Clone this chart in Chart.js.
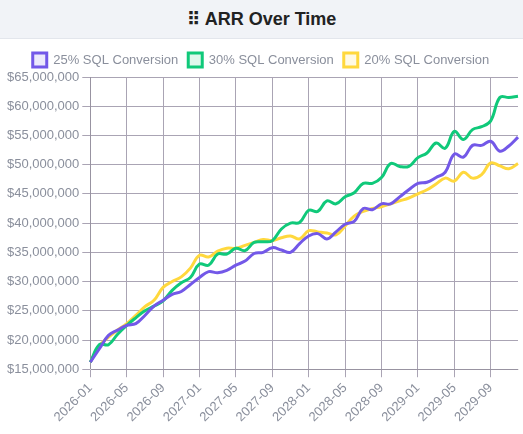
<!DOCTYPE html>
<html>
<head>
<meta charset="utf-8">
<script src="https://cdn.jsdelivr.net/npm/chart.js@4"></script>
<style>
  body { margin: 0; background: #fff; font-family: "Liberation Sans", Arial, sans-serif; }
  .title {
    height: 38px; line-height: 38px; background: #f1f3f7; text-align: center;
    font-weight: bold; font-size: 18px; color: #222; border-bottom: 1px solid #e3e6ec;
  }
  .wrap { position: relative; width: 523px; height: 395px; }
</style>
</head>
<body>
<div class="title">⠿ ARR Over Time</div>
<div class="wrap"><canvas id="c"></canvas></div>
<script>
const months = [
  "2026-01","2026-02","2026-03","2026-04","2026-05","2026-06","2026-07","2026-08","2026-09","2026-10","2026-11","2026-12",
  "2027-01","2027-02","2027-03","2027-04","2027-05","2027-06","2027-07","2027-08","2027-09","2027-10","2027-11","2027-12",
  "2028-01","2028-02","2028-03","2028-04","2028-05","2028-06","2028-07","2028-08","2028-09","2028-10","2028-11","2028-12",
  "2029-01","2029-02","2029-03","2029-04","2029-05","2029-06","2029-07","2029-08","2029-09","2029-10","2029-11","2029-12"
];

// values in millions
const sql25 = [16.2, 18.5, 20.8, 21.7, 22.5, 22.8, 24.2, 25.8, 26.8, 27.8, 28.3, 29.5,
  30.7, 31.7, 31.5, 31.9, 32.8, 33.5, 34.8, 35.0, 35.8, 35.4, 35.0, 36.5,
  37.8, 38.2, 37.3, 38.5, 39.8, 40.3, 42.5, 42.3, 43.3, 43.3, 44.5, 45.7,
  46.8, 47.0, 47.8, 48.7, 51.8, 51.3, 53.3, 53.3, 54.0, 52.3, 53.2, 54.7];
const sql30 = [16.2, 19.2, 19.2, 21.0, 22.5, 23.8, 25.0, 25.8, 26.7, 28.5, 29.8, 30.7,
  33.0, 32.8, 34.7, 34.7, 35.7, 35.3, 36.7, 36.8, 37.0, 39.0, 40.0, 40.1,
  42.2, 42.0, 43.8, 43.3, 44.5, 45.2, 46.8, 46.8, 47.8, 50.2, 49.7, 49.7,
  51.2, 52.0, 53.7, 52.8, 55.7, 54.3, 56.0, 56.5, 57.5, 61.5, 61.5, 61.7];
const sql20 = [16.2, 19.0, 20.5, 21.7, 22.8, 24.2, 25.7, 26.8, 29.0, 30.0, 30.8, 32.3,
  34.5, 34.2, 35.2, 35.7, 35.7, 36.2, 36.7, 37.2, 37.0, 37.5, 37.8, 37.3,
  38.7, 38.5, 38.3, 38.0, 39.5, 41.2, 42.0, 42.5, 42.8, 43.3, 43.8, 44.3,
  45.0, 45.7, 46.7, 47.7, 47.2, 48.7, 47.7, 48.3, 50.3, 49.8, 49.3, 50.2];

const toDollars = (arr) => arr.map((v) => v * 1e6);

const mk = (label, data, color) => ({
  label: label,
  data: toDollars(data),
  borderColor: color,
  backgroundColor: color + "22",
  borderWidth: 3,
  pointRadius: 0,
  tension: 0.4,
  fill: false,
});

Chart.defaults.font.family = '"Liberation Sans", Arial, sans-serif';

new Chart(document.getElementById("c"), {
  type: "line",
  data: {
    labels: months,
    datasets: [
      mk("25% SQL Conversion", sql25, "#7358e8"),
      mk("30% SQL Conversion", sql30, "#10c97a"),
      mk("20% SQL Conversion", sql20, "#ffd83d"),
    ],
  },
  options: {
    responsive: true,
    maintainAspectRatio: false,
    animation: false,
    layout: { padding: { left: 4, right: 5, top: 4, bottom: 6 } },
    plugins: {
      legend: {
        labels: { color: "#8a8f9c", font: { size: 13 }, boxWidth: 14, boxHeight: 14 },
      },
      tooltip: { enabled: false },
    },
    scales: {
      x: {
        grid: { color: "#aaa4b4" },
        ticks: {
          color: "#8a8f9c", font: { size: 13 }, maxRotation: 45, minRotation: 45, autoSkip: false,
          callback: function (v, i) { return i % 4 === 0 ? months[i] : null; },
        },
      },
      y: {
        min: 15000000, max: 65000000,
        grid: { color: "#aaa4b4" },
        ticks: {
          stepSize: 5000000, color: "#8a8f9c", font: { size: 13 },
          callback: (v) => "$" + v.toLocaleString("en-US"),
        },
      },
    },
  },
});
</script>
</body>
</html>
